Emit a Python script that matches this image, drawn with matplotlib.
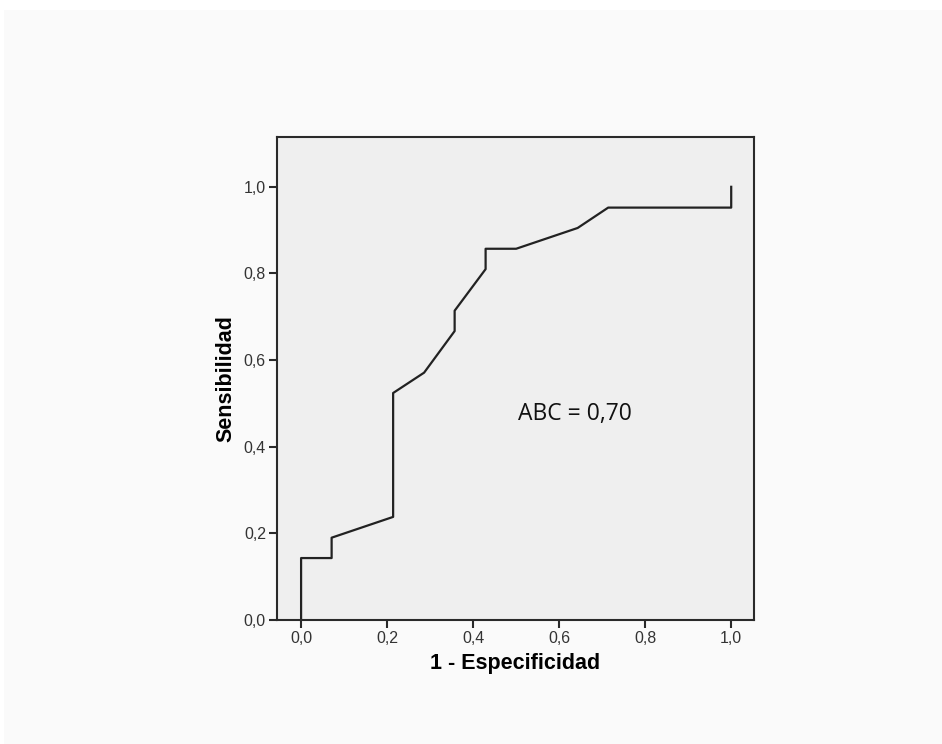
import numpy as np
import matplotlib.pyplot as plt
from matplotlib.patches import Rectangle
from matplotlib.ticker import FuncFormatter

# ROC curve points (1 - especificidad, sensibilidad)
fpr = [0.0, 0.0, 0.071, 0.071, 0.214, 0.214, 0.286, 0.357, 0.357, 0.429, 0.429, 0.5, 0.643, 0.714, 1.0, 1.0]
tpr = [0.0, 0.143, 0.143, 0.190, 0.238, 0.524, 0.571, 0.667, 0.714, 0.810, 0.857, 0.857, 0.905, 0.952, 0.952, 1.0]
ticks = [0.0, 0.2, 0.4, 0.6, 0.8, 1.0]
auc_text = "ABC = 0,70"

fig = plt.figure(figsize=(9.42, 7.44), dpi=100, facecolor="white")
# light grey page area
fig.patches.append(Rectangle((4 / 942, 0), 1, 1 - 10 / 744, transform=fig.transFigure,
                             facecolor="#fafafa", edgecolor="none", zorder=-10))

ax = fig.add_axes([277 / 942, 1 - 620 / 744, (754 - 277) / 942, (620 - 137) / 744])
ax.set_facecolor("#efefef")

ax.plot(fpr, tpr, color="#222222", linewidth=1.6)

ax.set_xlim(-0.056, 1.053)
ax.set_ylim(0.0, 1.115)
ax.set_xticks(ticks)
ax.set_yticks(ticks)
fmt = FuncFormatter(lambda v, p: f"{v:.1f}".replace(".", ","))
ax.xaxis.set_major_formatter(fmt)
ax.yaxis.set_major_formatter(fmt)

for s in ax.spines.values():
    s.set_linewidth(1.5)
    s.set_color("#2a2a2a")
ax.tick_params(direction="out", length=6, width=1.5, color="#2a2a2a",
               labelsize=11.5, labelcolor="#333333", pad=2)
for lbl in ax.get_xticklabels() + ax.get_yticklabels():
    lbl.set_family("Liberation Sans")

ax.set_xlabel("1 - Especificidad", fontsize=15.5, fontweight="bold",
              family="Liberation Sans", labelpad=5)
ax.set_ylabel("Sensibilidad", fontsize=15.5, fontweight="bold",
              family="Liberation Sans", labelpad=5)

ax.text(0.505, 0.475, auc_text, fontsize=16.5, family="Open Sans", color="#111111",
        ha="left", va="center")

fig.savefig("out.png", dpi=100, facecolor=fig.get_facecolor())
